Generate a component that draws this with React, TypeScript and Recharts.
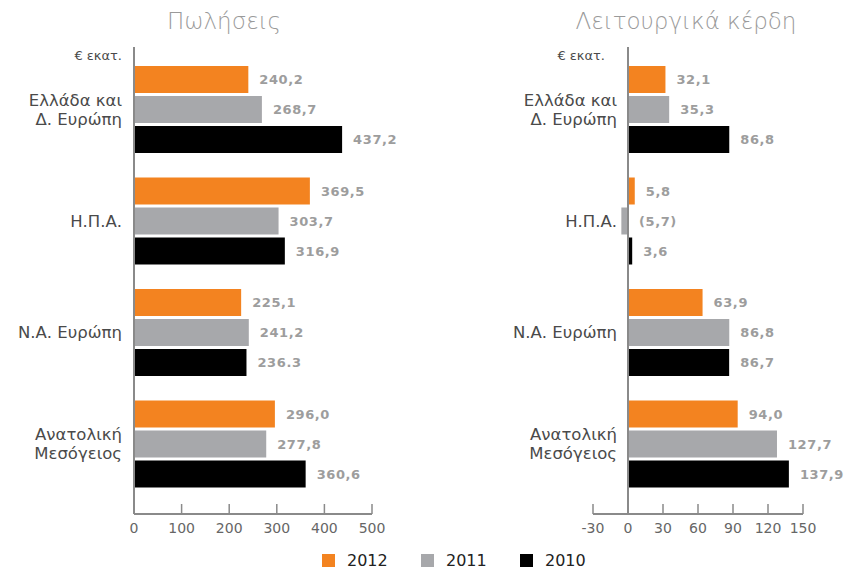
import { Bar, BarChart, LabelList, ReferenceLine, XAxis, YAxis } from "recharts";

document.body.style.margin = "0";

const regions = ["Ελλάδα και\nΔ. Ευρώπη", "Η.Π.Α.", "Ν.Α. Ευρώπη", "Ανατολική\nΜεσόγειος"];
const years = ["2012", "2011", "2010"];
const colors = ["#F38320", "#A7A8AB", "#000000"];

// Πωλήσεις (€ εκατ.)
const sales2012 = [240.2, 369.5, 225.1, 296.0];
const sales2011 = [268.7, 303.7, 241.2, 277.8];
const sales2010 = [437.2, 316.9, 236.3, 360.6];
const salesText2012 = ["240,2", "369,5", "225,1", "296,0"];
const salesText2011 = ["268,7", "303,7", "241,2", "277,8"];
const salesText2010 = ["437,2", "316,9", "236.3", "360,6"];
const salesTicks = [0, 100, 200, 300, 400, 500];

// Λειτουργικά κέρδη (€ εκατ.)
const profit2012 = [32.1, 5.8, 63.9, 94.0];
const profit2011 = [35.3, -5.7, 86.8, 127.7];
const profit2010 = [86.8, 3.6, 86.7, 137.9];
const profitText2012 = ["32,1", "5,8", "63,9", "94,0"];
const profitText2011 = ["35,3", "(5,7)", "86,8", "127,7"];
const profitText2010 = ["86,8", "3,6", "86,7", "137,9"];
const profitTicks = [-30, 0, 30, 60, 90, 120, 150];

const salesRows = regions.map((r, i) => ({
  region: r,
  v2012: sales2012[i],
  v2011: sales2011[i],
  v2010: sales2010[i],
  t2012: salesText2012[i],
  t2011: salesText2011[i],
  t2010: salesText2010[i],
}));

const profitRows = regions.map((r, i) => ({
  region: r,
  v2012: profit2012[i],
  v2011: profit2011[i],
  v2010: profit2010[i],
  t2012: profitText2012[i],
  t2011: profitText2011[i],
  t2010: profitText2010[i],
}));

const FONT = "'DejaVu Sans', sans-serif";
const AXIS = "#8a8a8a";

function RegionTick({ y, payload, textX }: any) {
  const lines = String(payload.value).split("\n");
  const start = y - ((lines.length - 1) * 19) / 2;
  return (
    <text x={textX} y={start} textAnchor="end" fontFamily={FONT} fontSize={16.5} fill="#4a4a4a">
      {lines.map((l, i) => (
        <tspan key={i} x={textX} y={start + i * 19} dominantBaseline="central">
          {l}
        </tspan>
      ))}
    </text>
  );
}

function ValueTick({ x, y, payload }: any) {
  return (
    <g>
      <line x1={x} x2={x} y1={y - 10} y2={y} stroke={AXIS} strokeWidth={1.5} />
      <text x={x} y={y + 14} textAnchor="middle" dominantBaseline="central" fontFamily={FONT} fontSize={14} fill="#666">
        {payload.value}
      </text>
    </g>
  );
}

function BarText({ x, y, width, height, value }: any) {
  const end = Math.max(x, x + width);
  return (
    <text
      x={end + 11}
      y={y + height / 2}
      dominantBaseline="central"
      fontFamily={FONT}
      fontSize={13}
      fontWeight="bold"
      letterSpacing={0.6}
      fill="#9d9d9d"
    >
      {value}
    </text>
  );
}

function Panel({ rows, ticks, domain, width, yWidth, right, textX, zeroLine }: any) {
  return (
    <BarChart
      width={width}
      height={545}
      data={rows}
      layout="vertical"
      margin={{ top: 47, right, bottom: 0, left: 0 }}
      barSize={27}
      barGap={3}
    >
      <XAxis
        type="number"
        domain={domain}
        ticks={ticks}
        interval={0}
        height={31}
        tickSize={0}
        tickMargin={0}
        tickLine={false}
        axisLine={{ stroke: AXIS, strokeWidth: 2 }}
        tick={<ValueTick />}
      />
      <YAxis
        type="category"
        dataKey="region"
        width={yWidth}
        tickSize={0}
        tickMargin={0}
        tickLine={false}
        padding={{ top: 7, bottom: 14 }}
        axisLine={zeroLine ? false : { stroke: AXIS, strokeWidth: 2 }}
        tick={(p: any) => <RegionTick {...p} textX={textX} />}
      />
      {years.map((yr, i) => (
        <Bar key={yr} dataKey={"v" + yr} name={yr} fill={colors[i]} isAnimationActive={false}>
          <LabelList dataKey={"t" + yr} content={<BarText />} />
        </Bar>
      ))}
      {zeroLine && <ReferenceLine x={0} stroke={AXIS} strokeWidth={2} />}
    </BarChart>
  );
}

const titleStyle: any = {
  position: "absolute",
  top: 8,
  fontFamily: FONT,
  fontWeight: 200,
  fontSize: 23,
  color: "#9a9a9a",
  whiteSpace: "nowrap",
  transform: "translateX(-50%)",
};

const unitStyle: any = {
  position: "absolute",
  top: 48,
  fontFamily: FONT,
  fontSize: 13,
  color: "#4a4a4a",
  whiteSpace: "nowrap",
  transform: "translateX(-100%)",
};

export default function App() {
  return (
    <div style={{ position: "relative", width: 844, height: 569, background: "#fff", overflow: "hidden" }}>
      <div style={{ ...titleStyle, left: 224 }}>Πωλήσεις</div>
      <div style={{ ...titleStyle, left: 686 }}>Λειτουργικά κέρδη</div>
      <div style={{ ...unitStyle, left: 122 }}>€ εκατ.</div>
      <div style={{ ...unitStyle, left: 605 }}>€ εκατ.</div>
      <div style={{ position: "absolute", left: 0, top: 0 }}>
        <Panel rows={salesRows} ticks={salesTicks} domain={[0, 500]} width={420} yWidth={134} right={48} textX={122} />
      </div>
      <div style={{ position: "absolute", left: 420, top: 0 }}>
        <Panel
          rows={profitRows}
          ticks={profitTicks}
          domain={[-30, 150]}
          width={424}
          yWidth={173}
          right={41}
          textX={197}
          zeroLine
        />
      </div>
      <div
        style={{
          position: "absolute",
          left: 322,
          top: 552,
          height: 17,
          lineHeight: "17px",
          display: "flex",
          alignItems: "center",
          fontFamily: FONT,
          fontSize: 16,
          color: "#222",
        }}
      >
        {years.map((yr, i) => (
          <div key={yr} style={{ display: "flex", alignItems: "center", width: 99 }}>
            <span style={{ width: 13, height: 13, background: colors[i], marginRight: 12, display: "inline-block" }} />
            <span>{yr}</span>
          </div>
        ))}
      </div>
    </div>
  );
}
